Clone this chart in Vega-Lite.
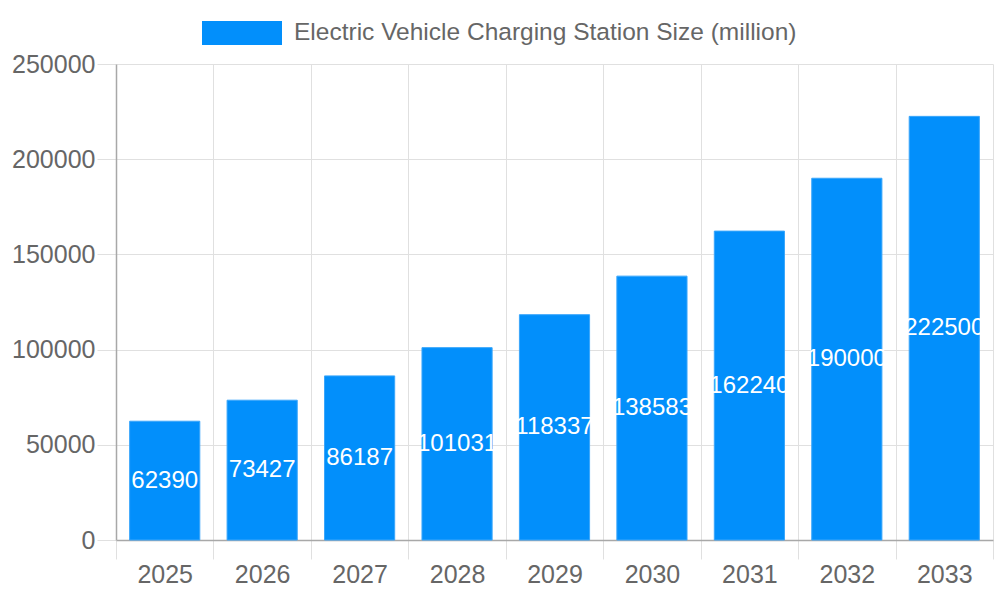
{
  "$schema": "https://vega.github.io/schema/vega-lite/v6.json",
  "width": 877,
  "height": 476,
  "autosize": {"type": "none"},
  "padding": {"left": 116, "top": 64, "right": 7, "bottom": 60},
  "background": "white",
  "config": {
    "font": "Liberation Sans",
    "view": {"stroke": null},
    "axis": {
      "labelFont": "Liberation Sans",
      "labelFontSize": 25,
      "labelColor": "#666666",
      "gridColor": "#e0e0e0",
      "gridWidth": 1,
      "tickColor": "#e0e0e0",
      "tickSize": 19,
      "domainColor": "#a8a8a8",
      "domainWidth": 1.5,
      "title": null
    }
  },
  "data": {
    "values": [
      {"year": "2025", "size": 62390, "series": "Electric Vehicle Charging Station Size (million)"},
      {"year": "2026", "size": 73427, "series": "Electric Vehicle Charging Station Size (million)"},
      {"year": "2027", "size": 86187, "series": "Electric Vehicle Charging Station Size (million)"},
      {"year": "2028", "size": 101031, "series": "Electric Vehicle Charging Station Size (million)"},
      {"year": "2029", "size": 118337, "series": "Electric Vehicle Charging Station Size (million)"},
      {"year": "2030", "size": 138583, "series": "Electric Vehicle Charging Station Size (million)"},
      {"year": "2031", "size": 162240, "series": "Electric Vehicle Charging Station Size (million)"},
      {"year": "2032", "size": 190000, "series": "Electric Vehicle Charging Station Size (million)"},
      {"year": "2033", "size": 222500, "series": "Electric Vehicle Charging Station Size (million)"}
    ]
  },
  "encoding": {
    "x": {
      "field": "year",
      "type": "ordinal",
      "scale": {"paddingInner": 0, "paddingOuter": 0},
      "axis": {
        "labelAngle": 0,
        "labelPadding": 3,
        "tickBand": "extent",
        "grid": true
      }
    }
  },
  "layer": [
    {
      "mark": {"type": "bar", "width": {"band": 0.72}, "stroke": "#3aa6fb", "strokeWidth": 1},
      "encoding": {
        "y": {
          "field": "size",
          "type": "quantitative",
          "scale": {"domain": [0, 250000], "nice": false},
          "axis": {"values": [0, 50000, 100000, 150000, 200000, 250000], "format": "d", "labelPadding": 2}
        },
        "color": {
          "field": "series",
          "type": "nominal",
          "scale": {"range": ["#028ffb"]},
          "legend": {
            "title": null,
            "orient": "none",
            "legendX": 86,
            "legendY": -71,
            "symbolType": "M-1,-0.3H1V0.3H-1Z",
            "symbolSize": 6400,
            "symbolStrokeWidth": 0,
            "symbolOpacity": 1,
            "labelFontSize": 24.5,
            "labelColor": "#666666",
            "labelOffset": 12,
            "labelLimit": 700
          }
        }
      }
    },
    {
      "transform": [{"calculate": "datum.size / 2", "as": "mid"}],
      "mark": {"type": "text", "color": "white", "fontSize": 24, "baseline": "middle", "align": "center"},
      "encoding": {
        "y": {"field": "mid", "type": "quantitative"},
        "text": {"field": "size", "type": "nominal"}
      }
    }
  ]
}
